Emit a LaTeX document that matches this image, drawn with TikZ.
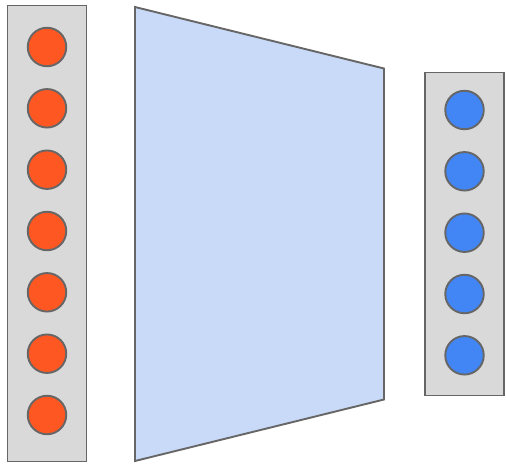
\documentclass[tikz,border=0pt]{standalone}
\begin{document}
\begin{tikzpicture}[x=1pt,y=-1pt,
  edgecol/.style={draw=black!60, line width=1.9pt},
  panel/.style={edgecol, fill=black!15},
  unitin/.style={edgecol, circle, inner sep=0pt, minimum size=38.5pt, fill={rgb,255:red,255;green,87;blue,34}},
  unitout/.style={edgecol, circle, inner sep=0pt, minimum size=38.5pt, fill={rgb,255:red,66;green,133;blue,244}}]
  \useasboundingbox (0,0) rectangle (506,464);
  % input column
  \draw[panel] (7.5,5.5) rectangle (86.5,461.5);
  \foreach \i/\y in {1/47,2/108.3,3/169.7,4/231,5/292.3,6/353.7,7/415}
    \node[unitin] (in\i) at (47,\y) {};
  % mapping block
  \draw[edgecol, fill={rgb,255:red,201;green,218;blue,248}, line join=miter]
    (135,7) -- (384,68.5) -- (384,399.5) -- (135,461) -- cycle;
  % output column
  \draw[panel] (425,72.5) rectangle (504,395.5);
  \foreach \i/\y in {1/110,2/171.3,3/232.7,4/294,5/355.3}
    \node[unitout] (out\i) at (464.5,\y) {};
\end{tikzpicture}
\end{document}
